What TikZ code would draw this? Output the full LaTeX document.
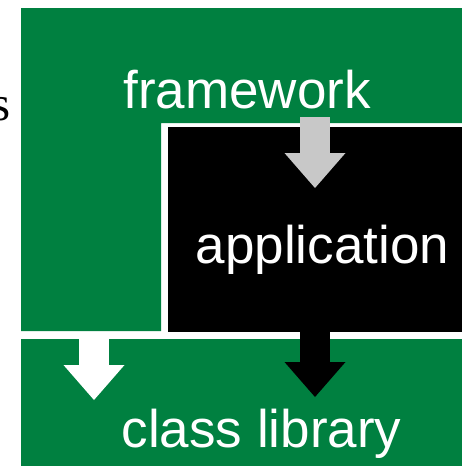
\documentclass[tikz,border=0pt]{standalone}
\usepackage{fontspec}
\setmainfont{Liberation Sans}
\newfontfamily\serifface{Liberation Serif}
\usetikzlibrary{arrows.meta}
\definecolor{fwgreen}{RGB}{0,128,64}
\definecolor{arrowgrey}{RGB}{200,200,200}
\tikzset{
  >=Stealth,
  lbl/.style = {text=white, anchor=base, inner sep=0pt, font=\fontsize{53}{60}\selectfont},
  blockarrow/.style = {line width=30pt, -{Triangle[width=61pt,length=35pt,line width=0pt]}},
}

\begin{document}
\begin{tikzpicture}[x=1pt, y=-1pt]
  \useasboundingbox (0,0) rectangle (462,466);
  \clip (0,0) rectangle (462,466);
  % framework
  \fill[fwgreen] (21,8) -- (462,8) -- (462,123) -- (161,123) -- (161,331) -- (21,331) -- cycle;
  % application
  \fill[black] (168,127) rectangle (462,332);
  % class library
  \fill[fwgreen] (21,339) rectangle (462,466);

  \node[font=\serifface\fontsize{49}{55}\selectfont, anchor=base east, inner sep=0pt] (cut) at (10.5,120) {s};
  \node[lbl] (fw) at (247,108) {framework};
  \node[lbl] (app) at (322.5,263) {application};
  \node[lbl] (lib) at (261.5,447) {class library};

  \coordinate (fwout) at (315,117);
  \coordinate (appin) at (315,188);
  \coordinate (appout) at (315,331);
  \coordinate (libin) at (315,397);
  \coordinate (fwdown) at (94,338);
  \coordinate (libin2) at (94,400);
  \draw[blockarrow, arrowgrey] (fwout) -- (appin);   % framework -> application
  \draw[blockarrow, black] (appout) -- (libin);      % application -> library
  \draw[blockarrow, white] (fwdown) -- (libin2);     % framework -> library
\end{tikzpicture}
\end{document}
